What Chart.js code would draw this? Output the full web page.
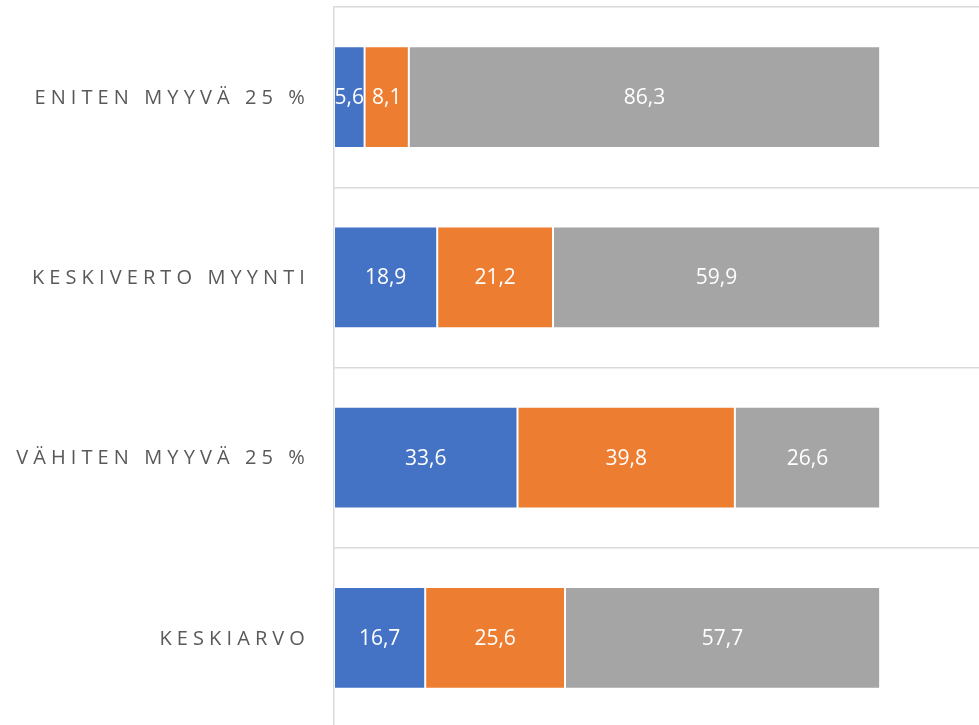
<!DOCTYPE html>
<html>
<head>
<meta charset="utf-8">
<script src="https://cdn.jsdelivr.net/npm/chart.js@4"></script>
<style>
  html, body { margin: 0; padding: 0; background: #fff; overflow: hidden; }
  #wrap { width: 979px; height: 730px; }
</style>
</head>
<body>
<div id="wrap"><canvas id="chart"></canvas></div>
<script>
const categories = ['ENITEN MYYVÄ 25 %', 'KESKIVERTO MYYNTI', 'VÄHITEN MYYVÄ 25 %', 'KESKIARVO'];
const seriesBlue = [5.6, 18.9, 33.6, 16.7];
const seriesOrange = [8.1, 21.2, 39.8, 25.6];
const seriesGray = [86.3, 59.9, 26.6, 57.7];
const colors = ['#4472C4', '#ED7D31', '#A5A5A5'];

// white value labels centred in each segment
const valueLabels = {
  id: 'valueLabels',
  afterDatasetsDraw(chart) {
    const ctx = chart.ctx;
    ctx.save();
    ctx.font = '21px "Open Sans"';
    ctx.fillStyle = '#fff';
    ctx.textAlign = 'center';
    ctx.textBaseline = 'middle';
    chart.data.datasets.forEach((ds, i) => {
      chart.getDatasetMeta(i).data.forEach((bar, j) => {
        const txt = ds.data[j].toFixed(1).replace('.', ',');
        ctx.fillText(txt, (bar.x + bar.base) / 2, bar.y + 1);
      });
    });
    ctx.restore();
  }
};

// spaced-out category labels on the left
const catLabels = {
  id: 'catLabels',
  afterDraw(chart) {
    const ctx = chart.ctx;
    const y = chart.scales.y;
    ctx.save();
    ctx.font = '20px "Open Sans"';
    ctx.fillStyle = '#595959';
    ctx.textAlign = 'right';
    ctx.textBaseline = 'middle';
    ctx.letterSpacing = '5.1px';
    categories.forEach((c, i) => {
      ctx.fillText(c, y.right - 24, y.getPixelForValue(i) + 1);
    });
    ctx.restore();
  }
};

new Chart(document.getElementById('chart'), {
  type: 'bar',
  data: {
    labels: categories,
    datasets: [
      { data: seriesBlue, backgroundColor: colors[0] },
      { data: seriesOrange, backgroundColor: colors[1] },
      { data: seriesGray, backgroundColor: colors[2] }
    ].map(d => Object.assign(d, {
      borderColor: 'rgba(255,255,255,0.45)',
      borderWidth: 1,
      borderSkipped: false,
      barPercentage: 0.565,
      categoryPercentage: 1
    }))
  },
  options: {
    indexAxis: 'y',
    responsive: true,
    maintainAspectRatio: false,
    animation: false,
    layout: { padding: { top: 7, bottom: 2, left: 0, right: 0 } },
    plugins: { legend: { display: false }, tooltip: { enabled: false } },
    scales: {
      x: {
        stacked: true,
        min: 0,
        max: 118.1,
        display: false
      },
      y: {
        stacked: true,
        afterFit(scale) { scale.width = 334; },
        ticks: { display: false },
        grid: { offset: true, color: '#D9D9D9', lineWidth: 1.5, drawTicks: false },
        border: { display: true, color: '#D9D9D9', width: 1.5 }
      }
    }
  },
  plugins: [valueLabels, catLabels]
});
</script>
</body>
</html>
